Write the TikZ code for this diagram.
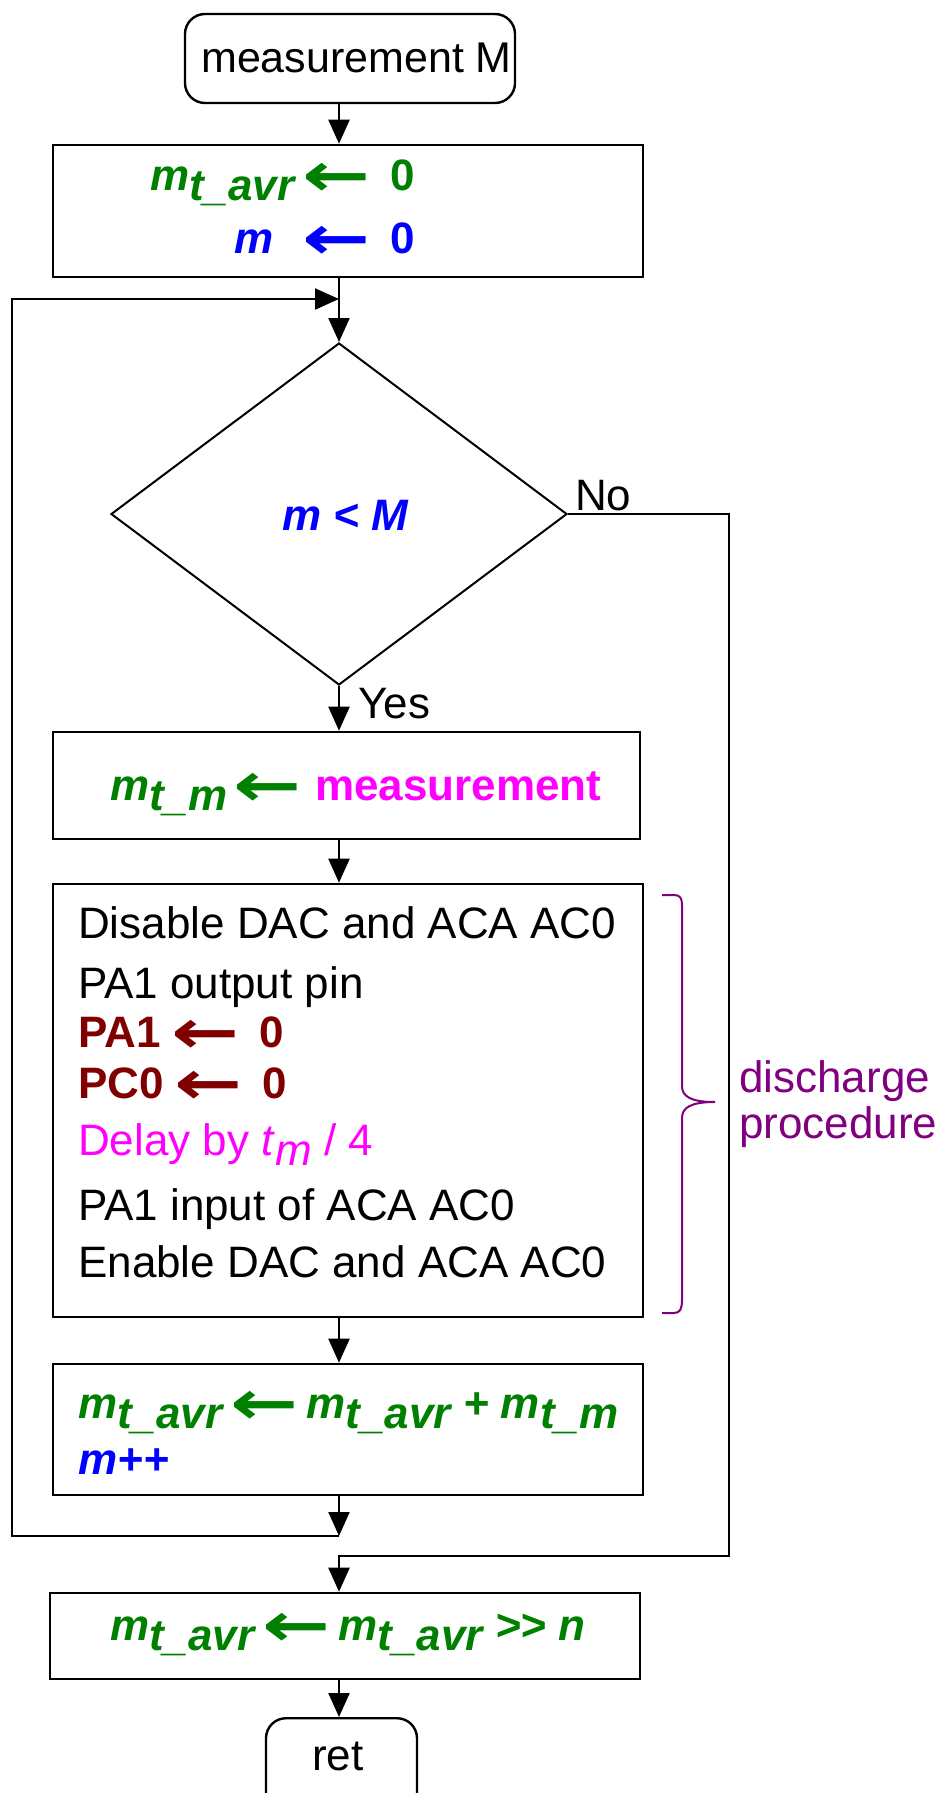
\documentclass[tikz,border=0pt]{standalone}
\usepackage{fontspec}
\setmainfont{Liberation Sans}
\newfontfamily\arrowfont{DejaVu Sans}
\usetikzlibrary{shapes.geometric,arrows.meta}
\definecolor{mgreen}{RGB}{0,128,0}
\definecolor{mblue}{RGB}{0,0,255}
\definecolor{mmag}{RGB}{255,0,255}
\definecolor{mred}{RGB}{128,0,0}
\definecolor{mpurp}{RGB}{128,0,128}
\newcommand\fs{\fontsize{44}{50}\selectfont}
\newcommand\la{\makebox[66pt][c]{\smash{\raisebox{-6pt}{\arrowfont\bfseries\scalebox{1.85}[1.4]{←}}}}}
\newcommand\mv[1]{\textit{m}\raisebox{-10pt}{\textit{#1}}}
\begin{document}
\begin{tikzpicture}[x=1pt,y=-1pt,
  box/.style={draw, rectangle, inner sep=0pt, line width=2.6pt},
  term/.style={draw, rectangle, rounded corners=20pt, inner sep=0pt, line width=2.4pt},
  txt/.style={anchor=base west, inner sep=0pt, font=\fs},
  vtxt/.style={txt, font=\fs\bfseries\itshape},
  arr/.style={line width=2.2pt, -{Triangle[length=24pt,width=21pt]}}]
\useasboundingbox (0,0) rectangle (935,1793);
\fill[white] (0,0) rectangle (935,1793);

% start
\node[term, minimum width=330pt, minimum height=89pt] (start) at (350,58.5) {};
\node[txt] (startt) at (201,73) {\fontsize{43}{50}\selectfont measurement M};

% box 1
\node[box, minimum width=590pt, minimum height=132pt] (b1) at (348,211) {};
\node[vtxt, text=mgreen] (t1a) at (150,190) {\makebox[153pt][l]{\mv{t\_avr}}\la\hspace{21pt}\upshape 0};
\node[vtxt, text=mblue] (t1b) at (234,253) {\makebox[69pt][l]{m}\la\hspace{21pt}\upshape 0};

% decision
\node[draw, diamond, shape aspect=1.333, minimum width=456pt, minimum height=342pt, inner sep=0pt, line width=2pt] (dia) at (339,514) {};
\node[vtxt, text=mblue] (cond) at (282,530) {m < M};
\node[txt] (no) at (575,510) {No};
\node[txt] (yes) at (358,718) {Yes};

% box 2
\node[box, minimum width=587pt, minimum height=107pt] (b2) at (346.5,785.5) {};
\node[vtxt, text=mgreen] (t2) at (110,800) {\makebox[124pt][l]{\mv{t\_m}}\la\hspace{15pt}{\upshape\color{mmag}measurement}};

% box 3
\node[box, minimum width=590pt, minimum height=433pt] (b3) at (348,1100.5) {};
\node[txt] (l1) at (78,938) {Disable DAC and ACA AC0};
\node[txt] (l2) at (78,998) {PA1 output pin};
\node[txt, text=mred, font=\fs\bfseries] (l3) at (78,1047) {\makebox[94pt][l]{PA1}\la\hspace{21pt}0};
\node[txt, text=mred, font=\fs\bfseries] (l4) at (78,1098) {\makebox[97pt][l]{PC0}\la\hspace{21pt}0};
\node[txt, text=mmag] (l5) at (78,1155) {Delay by \textit{t}\raisebox{-10pt}{\textit{m}} / 4};
\node[txt] (l6) at (78,1220) {PA1 input of ACA AC0};
\node[txt] (l7) at (78,1277) {Enable DAC and ACA AC0};

% brace
\draw[mpurp, line width=2pt] (662,895) -- (674,895) .. controls (680,895) and (682,898) .. (682,905) -- (682,1086) .. controls (682,1096) and (690,1102) .. (715,1102) .. controls (690,1102) and (682,1108) .. (682,1118) -- (682,1300) .. controls (682,1309) and (680,1313) .. (674,1313) -- (662,1313);
\node[txt, text=mpurp] (dp1) at (739,1092) {discharge};
\node[txt, text=mpurp] (dp2) at (739,1138) {procedure};

% box 4
\node[box, minimum width=590pt, minimum height=131pt] (b4) at (348,1429.5) {};
\node[vtxt, text=mgreen] (t4a) at (78,1418) {\mv{t\_avr}\hspace{9pt}\la\hspace{9pt}\mv{t\_avr} + \mv{t\_m}};
\node[vtxt, text=mblue] (t4b) at (78,1474) {m++};

% box 5
\node[box, minimum width=590pt, minimum height=86pt] (b5) at (345,1636) {};
\node[vtxt, text=mgreen] (t5) at (110,1640) {\mv{t\_avr}\hspace{9pt}\la\hspace{9pt}\mv{t\_avr} >\kern0pt>\ n};

% ret
\node[term, minimum width=151pt, minimum height=100pt, anchor=north] (ret) at (341.5,1717) {};
\node[anchor=base, inner sep=0pt, font=\fs] (rett) at (338,1770) {ret};

% connectors
\coordinate (j1) at (339,299);
\coordinate (j2) at (339,1536);
\coordinate (j3) at (339,1556);
\coordinate (lt) at (12,299);
\coordinate (lb) at (12,1536);
\coordinate (nr) at (729,514);
\coordinate (nb) at (729,1556);

\draw[arr] (start.south -| j1) -- (b1.north -| j1);
\draw[arr] (b1.south -| j1) -- (dia.north);
\draw[arr] (j2) -- (lb) -- (lt) -- (j1);
\draw[arr] (b4.south -| j1) -- (j2);
\draw[arr] (dia.south) -- (b2.north -| j1);
\draw[arr] (b2.south -| j1) -- (b3.north -| j1);
\draw[arr] (b3.south -| j1) -- (b4.north -| j1);
\draw[arr] (dia.east) -- (nr) -- (nb) -- (j3) -- (b5.north -| j1);
\draw[arr] (b5.south -| j1) -- (ret.north -| j1);
\end{tikzpicture}
\end{document}
